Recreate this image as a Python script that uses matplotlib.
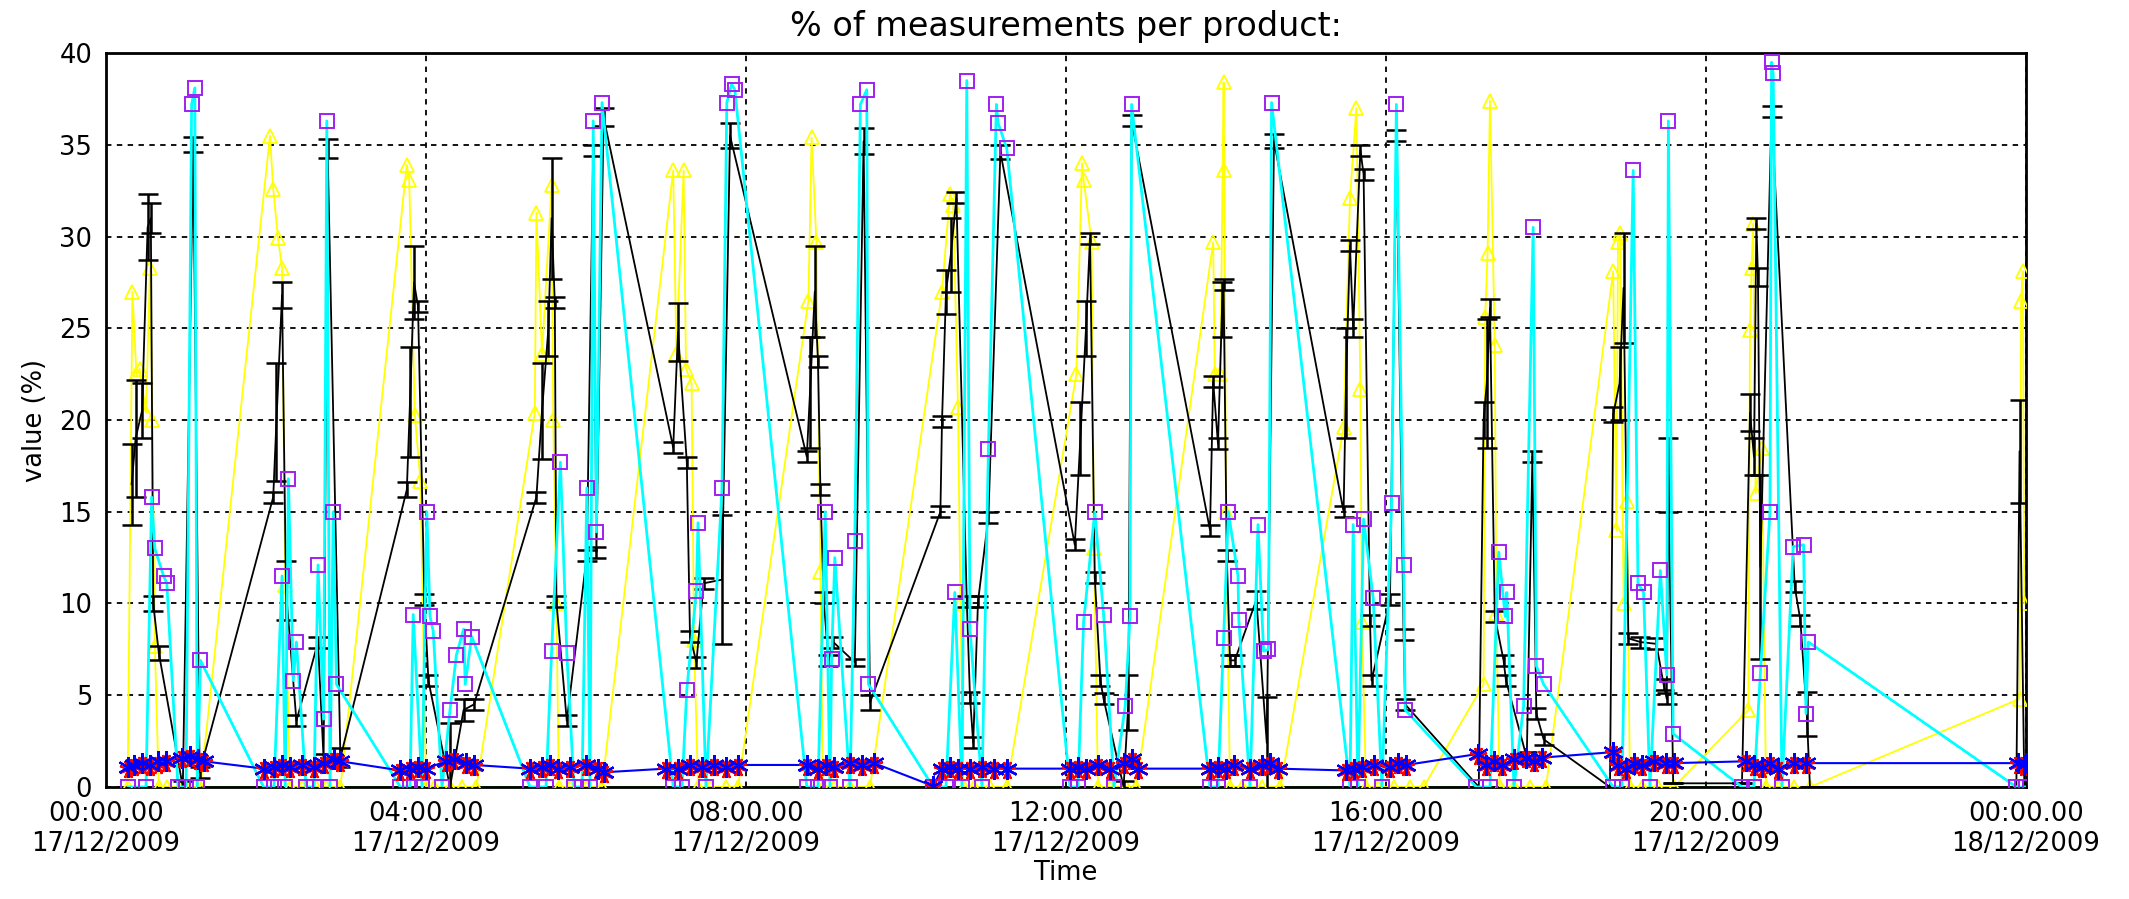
import matplotlib
matplotlib.use("Agg")
import matplotlib.pyplot as plt

# x = hours since 00:00 17/12/2009, y = % of measurements

# yellow product (triangles)
yellow_t = [0.27, 0.33, 0.38, 0.42, 0.50, 0.55, 0.58, 0.61, 0.66, 0.76, 0.95, 1.05, 1.18,
            2.05, 2.09, 2.15, 2.20, 2.24, 2.30, 2.45, 2.62, 2.75, 2.93,
            3.76, 3.79, 3.86, 3.93, 4.00, 4.10, 4.30, 4.45, 4.63,
            5.36, 5.38, 5.45, 5.57, 5.59, 5.63, 5.66, 5.80, 6.00, 6.20,
            7.09, 7.13, 7.22, 7.25, 7.32, 7.35, 7.40, 7.55, 7.75, 7.90,
            8.78, 8.82, 8.88, 8.93, 8.96, 9.10, 9.30, 9.55,
            10.45, 10.55, 10.59, 10.65, 10.68, 10.72, 10.85, 11.05, 11.26,
            12.13, 12.20, 12.22, 12.32, 12.35, 12.40, 12.55, 12.75, 12.88,
            13.84, 13.86, 13.93, 13.97, 13.98, 14.00, 14.05, 14.20, 14.45, 14.68,
            15.47, 15.55, 15.63, 15.68, 15.70, 15.75, 15.90, 16.10, 16.30, 16.47,
            17.22, 17.24, 17.27, 17.30, 17.36, 17.38, 17.42, 17.60, 17.80, 18.00,
            18.84, 18.88, 18.90, 18.93, 18.97, 19.01, 19.05, 19.20, 19.40, 19.60,
            20.53, 20.55, 20.57, 20.59, 20.62, 20.70, 20.75, 20.90, 21.10, 21.30,
            23.92, 23.94, 23.96, 23.98]
yellow_v = [0, 27.0, 22.5, 22.8, 20.4, 28.3, 20.0, 7.7, 0, 0, 0, 0, 0,
            35.5, 32.6, 29.9, 28.3, 11.0, 0, 0, 0, 0, 0,
            33.9, 33.1, 20.3, 16.7, 0, 0, 0, 0, 0,
            20.4, 31.3, 23.6, 32.8, 20.0, 10.0, 0, 0, 0, 0,
            33.6, 23.6, 33.6, 22.8, 22.0, 8.0, 0, 0, 0, 0,
            26.5, 35.4, 29.7, 11.7, 0, 0, 0, 0,
            27.0, 32.3, 31.7, 20.7, 10.0, 0, 0, 0, 0,
            22.5, 34.0, 33.1, 29.7, 13.0, 0, 0, 0, 0,
            29.7, 22.5, 22.5, 38.4, 33.6, 15.0, 0, 0, 0, 0,
            19.6, 32.1, 37.0, 21.7, 9.0, 0, 0, 0, 0, 0,
            5.6, 25.6, 29.1, 37.4, 24.1, 9.5, 0, 0, 0, 0,
            28.1, 14.0, 29.7, 30.2, 10.0, 15.6, 0, 0, 0, 0,
            4.2, 24.9, 28.3, 30.7, 16.0, 18.5, 0, 0, 0, 0,
            4.8, 26.5, 28.1, 10.0]

# cyan product (purple squares)
cyan_t = [0.28, 0.50, 0.57, 0.61, 0.72, 0.76, 0.90, 1.00, 1.07, 1.11, 1.14, 1.18,
          1.97, 2.10, 2.20, 2.24, 2.28, 2.34, 2.38, 2.50, 2.60, 2.65, 2.72, 2.76, 2.80, 2.84, 2.88,
          3.68, 3.80, 3.84, 3.95, 4.01, 4.05, 4.09, 4.20, 4.30, 4.38, 4.47, 4.49, 4.57,
          5.30, 5.50, 5.57, 5.68, 5.76, 5.85, 5.95, 6.01, 6.05, 6.09, 6.13, 6.20,
          7.09, 7.20, 7.26, 7.38, 7.40, 7.50, 7.70, 7.76, 7.82, 7.86,
          8.76, 8.90, 8.99, 9.05, 9.07, 9.11, 9.30, 9.36, 9.43, 9.51, 9.53,
          10.34, 10.50, 10.61, 10.70, 10.76, 10.80, 10.95, 11.03, 11.13, 11.15, 11.26,
          12.05, 12.15, 12.22, 12.36, 12.47, 12.60, 12.74, 12.80, 12.82,
          13.80, 13.90, 13.97, 14.03, 14.15, 14.16, 14.30, 14.40, 14.47, 14.53, 14.57,
          15.55, 15.59, 15.65, 15.72, 15.84, 15.95, 16.07, 16.13, 16.22, 16.24,
          17.13, 17.30, 17.41, 17.49, 17.51, 17.60, 17.72, 17.84, 17.88, 17.97,
          18.84, 18.95, 19.09, 19.15, 19.22, 19.30, 19.43, 19.51, 19.53, 19.59,
          20.45, 20.60, 20.68, 20.80, 20.82, 20.84, 20.95, 21.09, 21.22, 21.25, 21.28,
          23.88, 23.95, 24.00]
cyan_v = [0, 0, 15.8, 13.0, 11.5, 11.1, 0, 0, 37.2, 38.1, 0, 6.9,
          0, 0, 11.5, 0, 16.8, 5.8, 7.9, 0, 0, 12.1, 3.7, 36.3, 0, 15.0, 5.6,
          0, 0, 9.4, 0, 15.0, 9.3, 8.5, 0, 4.2, 7.2, 8.6, 5.6, 8.2,
          0, 0, 7.4, 17.7, 7.3, 0, 0, 16.3, 0, 36.3, 13.9, 37.3,
          0, 0, 5.3, 10.7, 14.4, 0, 16.3, 37.3, 38.3, 38.0,
          0, 0, 15.0, 0, 7.0, 12.5, 0, 13.4, 37.2, 38.0, 5.6,
          0, 0, 10.6, 0, 38.5, 8.6, 0, 18.4, 37.2, 36.2, 34.8,
          0, 0, 9.0, 15.0, 9.4, 0, 4.4, 9.3, 37.2,
          0, 0, 8.1, 15.0, 11.5, 9.1, 0, 14.3, 7.4, 7.5, 37.3,
          0, 14.3, 0, 14.6, 10.3, 0, 15.5, 37.2, 12.1, 4.2,
          0, 0, 12.8, 9.3, 10.6, 0, 4.4, 30.5, 6.6, 5.6,
          0, 0, 33.6, 11.1, 10.6, 0, 11.8, 6.1, 36.3, 2.9,
          0, 0, 6.2, 15.0, 39.5, 38.9, 0, 13.1, 13.2, 4.0, 7.9,
          0, 0, 0]

# black product with error bars
black_t = [0.32, 0.37, 0.45, 0.52, 0.56, 0.59, 0.66, 0.96, 1.09, 1.17,
           2.09, 2.13, 2.20, 2.25, 2.38, 2.65, 2.72, 2.77, 2.93,
           3.76, 3.80, 3.85, 3.90, 3.98, 4.03, 4.30, 4.47, 4.60,
           5.38, 5.45, 5.53, 5.57, 5.61, 5.63, 5.76, 6.01, 6.09, 6.13, 6.22,
           7.09, 7.15, 7.26, 7.30, 7.38, 7.47, 7.70, 7.80,
           8.76, 8.80, 8.86, 8.90, 8.93, 8.97, 9.03, 9.09, 9.36, 9.47, 9.55,
           10.43, 10.45, 10.50, 10.56, 10.63, 10.76, 10.80, 10.84, 10.90, 11.03, 11.18,
           12.11, 12.18, 12.25, 12.30, 12.36, 12.43, 12.47, 12.72, 12.78, 12.82,
           13.80, 13.84, 13.90, 13.95, 13.97, 14.01, 14.05, 14.11, 14.38, 14.51, 14.60,
           15.47, 15.50, 15.55, 15.59, 15.68, 15.72, 15.80, 15.82, 16.05, 16.13, 16.22, 16.24,
           17.16, 17.22, 17.26, 17.30, 17.36, 17.47, 17.50, 17.76, 17.83, 17.88, 17.97,
           18.80, 18.84, 18.92, 18.97, 19.03, 19.18, 19.38, 19.47, 19.51, 19.53, 19.59,
           20.45, 20.55, 20.60, 20.63, 20.65, 20.68, 20.82, 21.11, 21.18, 21.26, 21.30,
           23.88, 23.92, 23.98]
black_v = [16.5, 19.0, 20.5, 30.5, 31.0, 10.0, 7.3, 0.0, 35.0, 0.8,
           15.8, 19.9, 26.8, 10.7, 3.6, 7.9, 1.5, 34.8, 1.6,
           16.2, 21.0, 27.5, 26.2, 10.2, 5.8, 0.0, 4.2, 4.5,
           15.8, 20.5, 25.0, 31.0, 26.4, 10.1, 3.6, 12.6, 34.7, 12.8, 36.5,
           18.5, 24.8, 17.7, 8.2, 6.8, 11.1, 11.3, 35.5,
           18.0, 21.5, 27.0, 23.2, 16.2, 10.3, 6.9, 7.9, 6.8, 35.2, 4.6,
           15.0, 19.9, 27.0, 29.0, 32.1, 10.1, 4.9, 2.4, 10.1, 14.7, 34.6,
           13.2, 19.0, 25.0, 29.9, 11.4, 5.8, 4.8, 0.0, 4.6, 36.3,
           14.0, 22.1, 18.7, 26.0, 27.4, 12.6, 6.9, 6.9, 10.2, 2.4, 35.2,
           15.0, 22.0, 29.5, 25.0, 34.7, 33.4, 9.1, 5.8, 10.2, 35.5, 8.3, 4.5,
           0.0, 20.0, 22.0, 26.1, 9.3, 6.9, 5.8, 1.6, 18.0, 4.0, 2.6,
           0.0, 20.3, 22.0, 27.2, 8.1, 7.9, 7.8, 5.6, 4.8, 17.0, 0.2,
           0.2, 20.4, 18.0, 30.7, 27.8, 12.0, 36.8, 10.9, 9.1, 4.0, 0.0,
           0.0, 18.3, 0.0]
black_err = [2.2, 3.2, 1.5, 1.8, 0.8, 0.4, 0.4, 0.3, 0.4, 0.3,
             0.3, 3.2, 0.7, 1.6, 0.3, 0.3, 0.3, 0.5, 0.5,
             0.4, 3.0, 2.0, 0.3, 0.3, 0.3, 3.5, 0.6, 0.3,
             0.3, 2.6, 1.5, 3.3, 0.3, 0.3, 0.3, 0.3, 0.3, 0.3, 0.5,
             0.3, 1.6, 0.3, 0.3, 0.3, 0.3, 3.5, 0.7,
             0.3, 3.0, 2.5, 0.3, 0.3, 0.3, 0.3, 0.3, 0.2, 0.7, 0.4,
             0.3, 0.3, 1.2, 2.0, 0.3, 0.3, 0.3, 0.3, 0.3, 0.3, 0.4,
             0.3, 2.0, 1.5, 0.3, 0.3, 0.3, 0.3, 0.3, 1.5, 0.3,
             0.3, 0.3, 0.3, 1.5, 0.3, 0.3, 0.3, 0.3, 0.5, 2.5, 0.4,
             0.3, 3.0, 0.3, 0.5, 0.3, 0.3, 0.3, 0.3, 0.3, 0.3, 0.3, 0.3,
             0.0, 1.0, 3.5, 0.5, 0.3, 0.3, 0.3, 0.3, 0.3, 0.3, 0.3,
             0.0, 0.4, 2.0, 3.0, 0.3, 0.3, 0.3, 0.3, 0.3, 2.0, 0.0,
             0.0, 1.0, 1.0, 0.3, 0.5, 5.0, 0.3, 0.3, 0.3, 1.2, 0.0,
             0.0, 2.8, 0.0]

# blue and red products (asterisks), sampled at the same times
blue_t = [0.28, 0.35, 0.45, 0.55, 0.65, 0.75, 0.95, 1.05, 1.15, 1.22,
          1.97, 2.10, 2.20, 2.30, 2.45, 2.60, 2.72, 2.85, 2.93,
          3.68, 3.80, 3.90, 4.00, 4.25, 4.35, 4.50, 4.60,
          5.30, 5.45, 5.55, 5.65, 5.80, 6.00, 6.15, 6.22,
          7.00, 7.15, 7.30, 7.45, 7.60, 7.75, 7.90,
          8.76, 8.90, 9.00, 9.10, 9.30, 9.45, 9.60,
          10.34, 10.45, 10.55, 10.65, 10.80, 10.95, 11.10, 11.26,
          12.05, 12.15, 12.25, 12.40, 12.55, 12.72, 12.82, 12.90,
          13.80, 13.90, 14.00, 14.10, 14.30, 14.45, 14.55, 14.65,
          15.50, 15.60, 15.70, 15.85, 16.05, 16.15, 16.25,
          17.15, 17.25, 17.35, 17.45, 17.60, 17.75, 17.85, 17.95,
          18.84, 18.90, 19.00, 19.10, 19.20, 19.35, 19.50, 19.60,
          20.50, 20.60, 20.70, 20.80, 20.90, 21.10, 21.25,
          23.90, 23.97, 24.00]
blue_v = [1.1, 1.2, 1.3, 1.2, 1.4, 1.4, 1.6, 1.7, 1.5, 1.4,
          1.0, 1.1, 1.2, 1.1, 1.2, 1.1, 1.3, 1.5, 1.4,
          0.9, 1.0, 1.1, 1.0, 1.4, 1.5, 1.3, 1.2,
          1.0, 1.1, 1.2, 1.0, 1.1, 1.2, 1.0, 0.8,
          1.0, 1.0, 1.2, 1.1, 1.2, 1.1, 1.2,
          1.2, 1.0, 1.2, 1.1, 1.3, 1.2, 1.3,
          0.05, 1.0, 1.1, 1.0, 1.0, 1.1, 1.0, 1.0,
          1.0, 1.1, 1.0, 1.2, 1.0, 1.3, 1.5, 1.0,
          1.0, 1.1, 1.0, 1.2, 1.0, 1.2, 1.3, 1.0,
          0.9, 1.0, 1.1, 1.2, 1.1, 1.3, 1.2,
          1.8, 1.2, 1.4, 1.2, 1.5, 1.6, 1.4, 1.6,
          1.9, 1.2, 1.0, 1.3, 1.2, 1.4, 1.3, 1.3,
          1.4, 1.2, 1.1, 1.3, 1.0, 1.3, 1.3,
          1.3, 1.2, 1.3]
red_v = [1.0, 1.1, 1.2, 1.1, 1.2, 1.3, 1.5, 1.6, 1.4, 1.3,
         0.9, 1.0, 1.1, 1.0, 1.1, 1.0, 1.2, 1.4, 1.3,
         0.8, 0.9, 1.0, 0.9, 1.3, 1.4, 1.2, 1.1,
         0.9, 1.0, 1.1, 0.9, 1.0, 1.1, 0.9, 0.7,
         0.9, 0.9, 1.1, 1.0, 1.1, 1.0, 1.1,
         1.1, 0.9, 1.1, 1.0, 1.2, 1.1, 1.2,
         0.0, 0.9, 1.0, 0.9, 0.9, 1.0, 0.9, 0.9,
         0.9, 1.0, 0.9, 1.1, 0.9, 1.2, 1.4, 0.9,
         0.9, 1.0, 0.9, 1.1, 0.9, 1.1, 1.2, 0.9,
         0.8, 0.9, 1.0, 1.1, 1.0, 1.2, 1.1,
         1.7, 1.1, 1.3, 1.1, 1.4, 1.5, 1.3, 1.5,
         1.8, 1.1, 0.9, 1.2, 1.1, 1.3, 1.2, 1.2,
         1.3, 1.1, 1.0, 1.2, 0.9, 1.2, 1.2,
         1.2, 1.1, 1.2]

# green product, zero all day
green_t = [0.28, 1.22, 1.97, 2.93, 3.68, 4.60, 5.30, 6.22, 7.00, 7.90, 8.76, 9.60, 10.34, 11.26,
           12.05, 12.90, 13.80, 14.65, 15.50, 16.25, 17.15, 17.95, 18.84, 19.60, 20.50, 21.25,
           23.90, 24.00]
green_v = [0, 0, 0, 0, 0, 0, 0, 0, 0, 0, 0, 0, 0, 0,
           0, 0, 0, 0, 0, 0, 0, 0, 0, 0, 0, 0,
           0, 0]

tick_hours = [0, 4, 8, 12, 16, 20, 24]
tick_labels = ['00:00.00\n17/12/2009', '04:00.00\n17/12/2009', '08:00.00\n17/12/2009',
               '12:00.00\n17/12/2009', '16:00.00\n17/12/2009', '20:00.00\n17/12/2009',
               '00:00.00\n18/12/2009']

PURPLE = '#a020f0'

fig = plt.figure(figsize=(21.29, 8.99), dpi=100)
ax = fig.add_axes([0.0498, 0.1246, 0.9018, 0.8164])

ax.plot(green_t, green_v, color='#00ff00', lw=2.0, zorder=2)
ax.plot(yellow_t, yellow_v, color='#ffff00', lw=1.3, marker='^', ms=10,
        mfc='none', mec='#ffff00', mew=1.3, zorder=3)
ax.errorbar(black_t, black_v, yerr=black_err, color='black', lw=1.3,
            elinewidth=1.8, capsize=7, capthick=1.8, zorder=4)
ax.plot(cyan_t, cyan_v, color='#00ffff', lw=2.0, zorder=5)
ax.plot(cyan_t, cyan_v, ls='none', marker='s', ms=10, mfc='none', mec=PURPLE,
        mew=1.4, zorder=6)
# blue line with asterisks, red asterisks mixed in
ax.plot(blue_t, blue_v, color='blue', lw=1.5, zorder=7)
ax.plot(blue_t, red_v, ls='none', color='red', marker=(8, 2, 22.5), ms=13, mew=1.6, zorder=8)
ax.plot(blue_t, blue_v, ls='none', color='blue', marker=(6, 2, 0), ms=15, mew=1.6, zorder=9)

ax.set_xlim(0, 24)
ax.set_ylim(0, 40)
ax.set_xticks(tick_hours)
ax.set_xticklabels(tick_labels)
ax.set_yticks(range(0, 41, 5))
ax.tick_params(length=0, labelsize=18.5, pad=10)
ax.grid(True, color='black', ls=(0, (3, 3)), lw=1.3)
ax.set_axisbelow(True)
for s in ax.spines.values():
    s.set_linewidth(2.0)

ax.set_title('% of measurements per product:', fontsize=24, pad=12)
ax.set_xlabel('Time', fontsize=18.5, labelpad=2)
ax.set_ylabel('value (%)', fontsize=18.5, labelpad=8)

fig.savefig('out.png', dpi=100)
